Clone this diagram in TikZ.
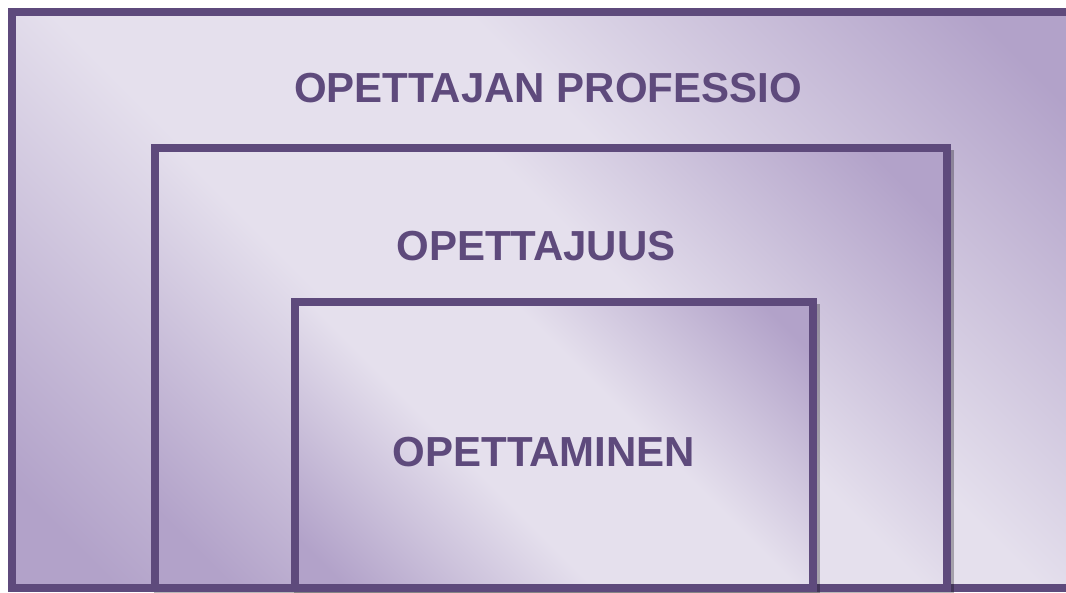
\documentclass[tikz,border=0pt]{standalone}
\usepackage{fontspec}
\setmainfont{Liberation Sans}
\usepackage{tikz}
\definecolor{frameviolet}{RGB}{94,74,124}
\definecolor{lilaclight}{RGB}{229,224,237}
\definecolor{lilacdark}{RGB}{178,162,201}
\pgfdeclarehorizontalshading{lilacsheen}{100bp}{color(0bp)=(lilacdark); color(19bp)=(lilacdark); color(41bp)=(lilaclight); color(59bp)=(lilaclight); color(81bp)=(lilacdark); color(100bp)=(lilacdark)}
\tikzset{
  boxframe/.style  = {draw=frameviolet, line width=8pt, shading=lilacsheen, shading angle=45},
  boxshadow/.style = {fill=black, opacity=0.28},
  boxlabel/.style  = {text=frameviolet, font=\fontsize{42}{50}\selectfont\bfseries, anchor=base, inner sep=0pt},
}

\begin{document}
\begin{tikzpicture}[x=1pt, y=-1pt]
    \useasboundingbox (0,0) rectangle (1066,592);
    \clip (0,0) rectangle (1066,592);

    % outer frame (runs past the right edge)
    \draw[boxframe] (12,12) rectangle (1080,588);

    % middle frame with its shadow
    \fill[boxshadow] (153.5,150) rectangle (953.5,600);
    \draw[boxframe] (155,148) rectangle (947,588);

    % inner frame with its shadow
    \fill[boxshadow] (293.5,304) rectangle (819.5,600);
    \draw[boxframe] (295,302) rectangle (813,588);

    % labels
    \node[boxlabel] (professio) at (548,102) {OPETTAJAN PROFESSIO};
    \node[boxlabel] (opettajuus) at (536,260) {OPETTAJUUS};
    \node[boxlabel] (opettaminen) at (544,466) {OPETTAMINEN};
\end{tikzpicture}
\end{document}
